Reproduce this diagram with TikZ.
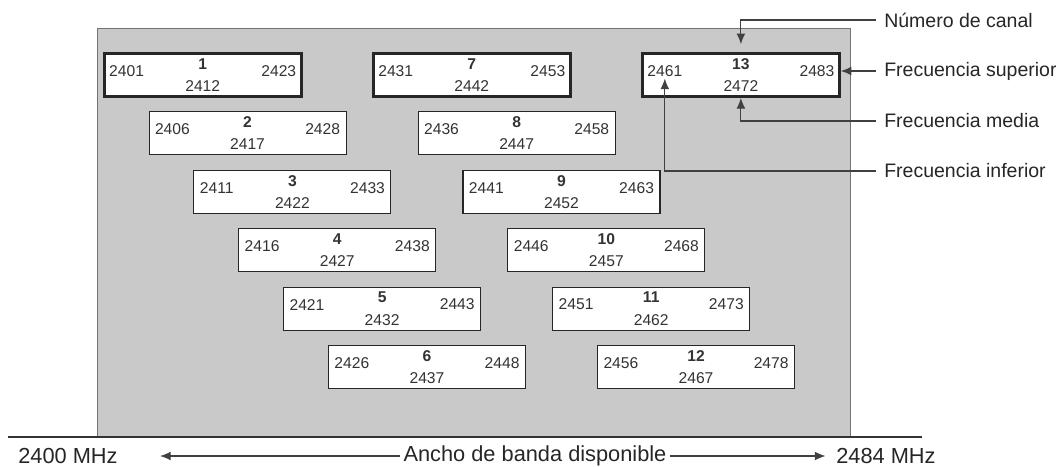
\documentclass[tikz,border=0pt]{standalone}
\usepackage{fontspec}
\setmainfont{Liberation Sans}
\usetikzlibrary{arrows.meta}
\tikzset{
  chbox/.style={draw=black!85, fill=white, line width=0.6pt, minimum width=3.94cm, minimum height=0.86cm, inner sep=0pt},
  chthick/.style={line width=1.7pt},
  num/.style={font=\fontsize{8.9}{10}\selectfont, inner sep=1pt, text=black!80},
  legend/.style={font=\fontsize{11.1}{13}\selectfont, anchor=west, inner xsep=4.5pt, inner ysep=1pt, text=black!85},
  axislab/.style={font=\fontsize{12.4}{14}\selectfont, inner sep=2pt, text=black!85},
  pointer/.style={draw=black!75, line width=0.6pt, -{Latex[length=6pt,width=5pt]}},
}
\begin{document}
\begin{tikzpicture}[x=0.02cm, y=-0.02cm]
\useasboundingbox (0,0) rectangle (1056,467);
\fill[black!21, draw=black!55, line width=0.5pt] (97,28) rectangle (850,437);
\foreach \n/\row/\st in {1/0/chthick,2/1/{},3/2/{},4/3/{},5/4/{},6/5/{},7/0/chthick,8/1/{},9/2/{},10/3/{},11/4/{},12/5/{},13/0/chthick}{
  \pgfmathtruncatemacro\fc{2407+5*\n}
  \pgfmathtruncatemacro\lo{\fc-11}
  \pgfmathtruncatemacro\hi{\fc+11}
  \node[chbox,\st] (ch\n) at ({202.7+8.97*(\fc-2412)},{75+58.4*\row}) {};
  \node[num, anchor=west] (lo\n) at ([xshift=2.5pt, yshift=2.3pt]ch\n.west) {\lo};
  \node[num, anchor=east] (hi\n) at ([xshift=-2.5pt, yshift=2.3pt]ch\n.east) {\hi};
  \node[num, font=\fontsize{8.9}{10}\selectfont\bfseries] (nr\n) at ([yshift=6.3pt]ch\n.center) {\n};
  \node[num] (fc\n) at ([yshift=-6.3pt]ch\n.center) {\fc};
}
\node[legend] (lcanal) at (876,20) {Número de canal};
\node[legend] (lsup) at (876,71) {Frecuencia superior};
\node[legend] (lmed) at (876,121) {Frecuencia media};
\node[legend] (linf) at (876,171) {Frecuencia inferior};
\draw[pointer] (lcanal.west) -| ([yshift=4.5pt]ch13.north);
\draw[pointer] (lsup.west) -- (lsup.west -| ch13.east);
\draw[pointer] (lmed.west) -| (ch13.south);
\draw[pointer] (linf.west) -| (lo13.south);
\draw[black!80, line width=0.8pt] (8,437) -- (922,437);
\node[axislab] (f0) at (68,456) {2400 MHz};
\node[axislab] (ancho) at (535,456) {Ancho de banda disponible};
\node[axislab] (f1) at (886,456) {2484 MHz};
\draw[pointer, shorten >=22pt] (ancho.west) -- (f0.east);
\draw[pointer, shorten >=4pt] (ancho.east) -- (f1.west);
\end{tikzpicture}
\end{document}
